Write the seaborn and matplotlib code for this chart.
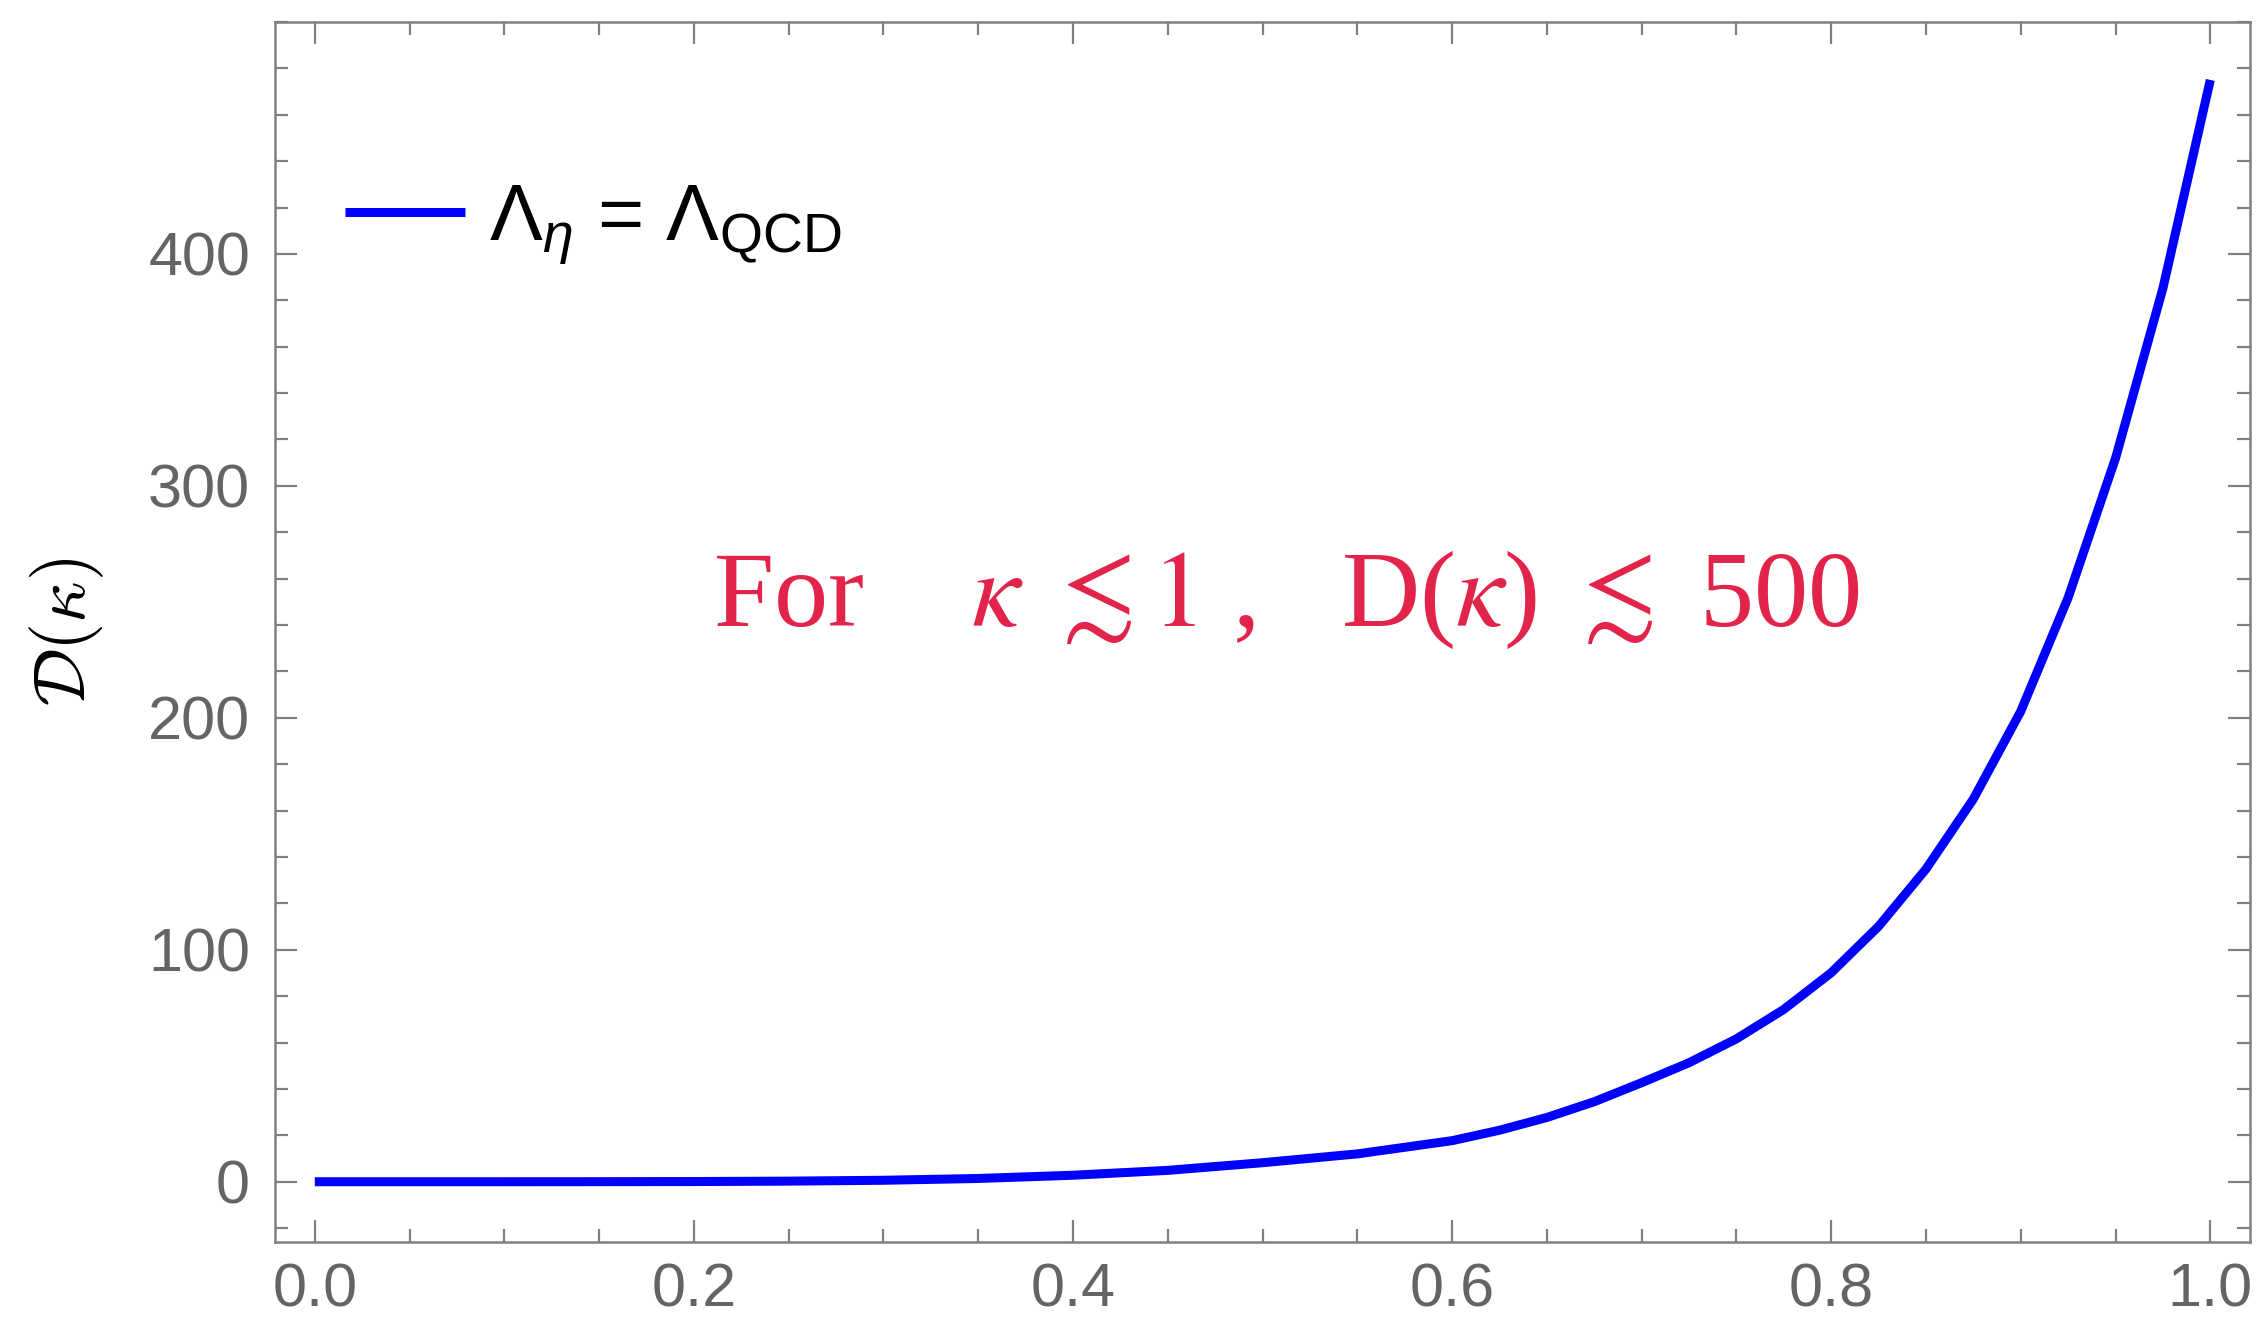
import matplotlib
matplotlib.use("Agg")
import matplotlib.pyplot as plt
from matplotlib.ticker import MultipleLocator
import seaborn as sns
import pandas as pd

# D(kappa) for Lambda_eta = Lambda_QCD
kappa = [0.0, 0.05, 0.10, 0.15, 0.20, 0.25, 0.30, 0.35, 0.40, 0.45, 0.50,
         0.55, 0.60, 0.625, 0.65, 0.675, 0.70, 0.725, 0.75, 0.775, 0.80,
         0.825, 0.85, 0.875, 0.90, 0.925, 0.95, 0.975, 1.0]
d_kappa = [0.0, 0.0, 0.0, 0.02, 0.08, 0.25, 0.63, 1.4, 2.8, 4.9, 8.2,
           12.0, 17.7, 22.2, 27.7, 34.5, 42.7, 51.3, 61.6, 74.3, 90.1,
           110.1, 134.8, 165.0, 202.8, 251.8, 311.9, 385.2, 475.0]
series_label = r"$\Lambda_\eta$ = $\Lambda_{\mathrm{QCD}}$"
x_ticks = [0.0, 0.2, 0.4, 0.6, 0.8, 1.0]
y_ticks = [0, 100, 200, 300, 400]
note = r"For    $\kappa\ \lesssim 1$ ,   D($\kappa$) $\lesssim$ 500"

df = pd.DataFrame({"kappa": kappa, "D": d_kappa})

sns.set_theme(style="ticks")
plt.rcParams["font.family"] = ["Liberation Sans", "DejaVu Sans"]
plt.rcParams["mathtext.fontset"] = "custom"
plt.rcParams["mathtext.rm"] = "Liberation Sans"
plt.rcParams["mathtext.it"] = "Liberation Sans:italic"
plt.rcParams["mathtext.bf"] = "Liberation Sans:bold"

fig = plt.figure(figsize=(22.58, 13.23), dpi=100)
ax = fig.add_axes([0.1218, 0.0612, 0.8747, 0.9222])

sns.lineplot(data=df, x="kappa", y="D", ax=ax, color="#0000ff",
             linewidth=6.5, label=series_label, sort=True,
             solid_capstyle="butt")

ax.set_xlim(-0.021, 1.021)
ax.set_ylim(-26, 500)
ax.set_xticks(x_ticks)
ax.set_xticklabels([f"{t:.1f}" for t in x_ticks])
ax.set_yticks(y_ticks)
ax.set_yticklabels([str(t) for t in y_ticks])
ax.xaxis.set_minor_locator(MultipleLocator(0.05))
ax.yaxis.set_minor_locator(MultipleLocator(20))

spine_color = "#808080"
for s in ax.spines.values():
    s.set_color(spine_color)
    s.set_linewidth(1.8)
    s.set_visible(True)

ax.tick_params(which="both", direction="in", top=True, right=True,
               color=spine_color, width=1.6, labelcolor="#646464",
               labelsize=44)
ax.tick_params(which="major", length=16)
ax.tick_params(which="minor", length=9.5)
ax.tick_params(axis="x", which="major", pad=15)
ax.tick_params(axis="y", which="major", pad=18)

ax.set_xlabel("")
ax.set_ylabel(r"$\mathcal{D}(\kappa)$", fontsize=52, color="black",
              math_fontfamily="cm", labelpad=30)

leg = ax.legend(loc="center left", bbox_to_anchor=(0.0354, 0.834),
                frameon=False, fontsize=57, handlelength=1.52,
                handletextpad=0.3, borderpad=0, borderaxespad=0)
for line in leg.get_lines():
    line.set_linewidth(6.5)
for t in leg.get_texts():
    t.set_color("black")

ax.text(0.222, 0.505, note, transform=ax.transAxes, fontsize=78,
        color="#e2234a", family="Liberation Serif", math_fontfamily="stix",
        ha="left", va="baseline")

fig.savefig("out.png", dpi=100)
